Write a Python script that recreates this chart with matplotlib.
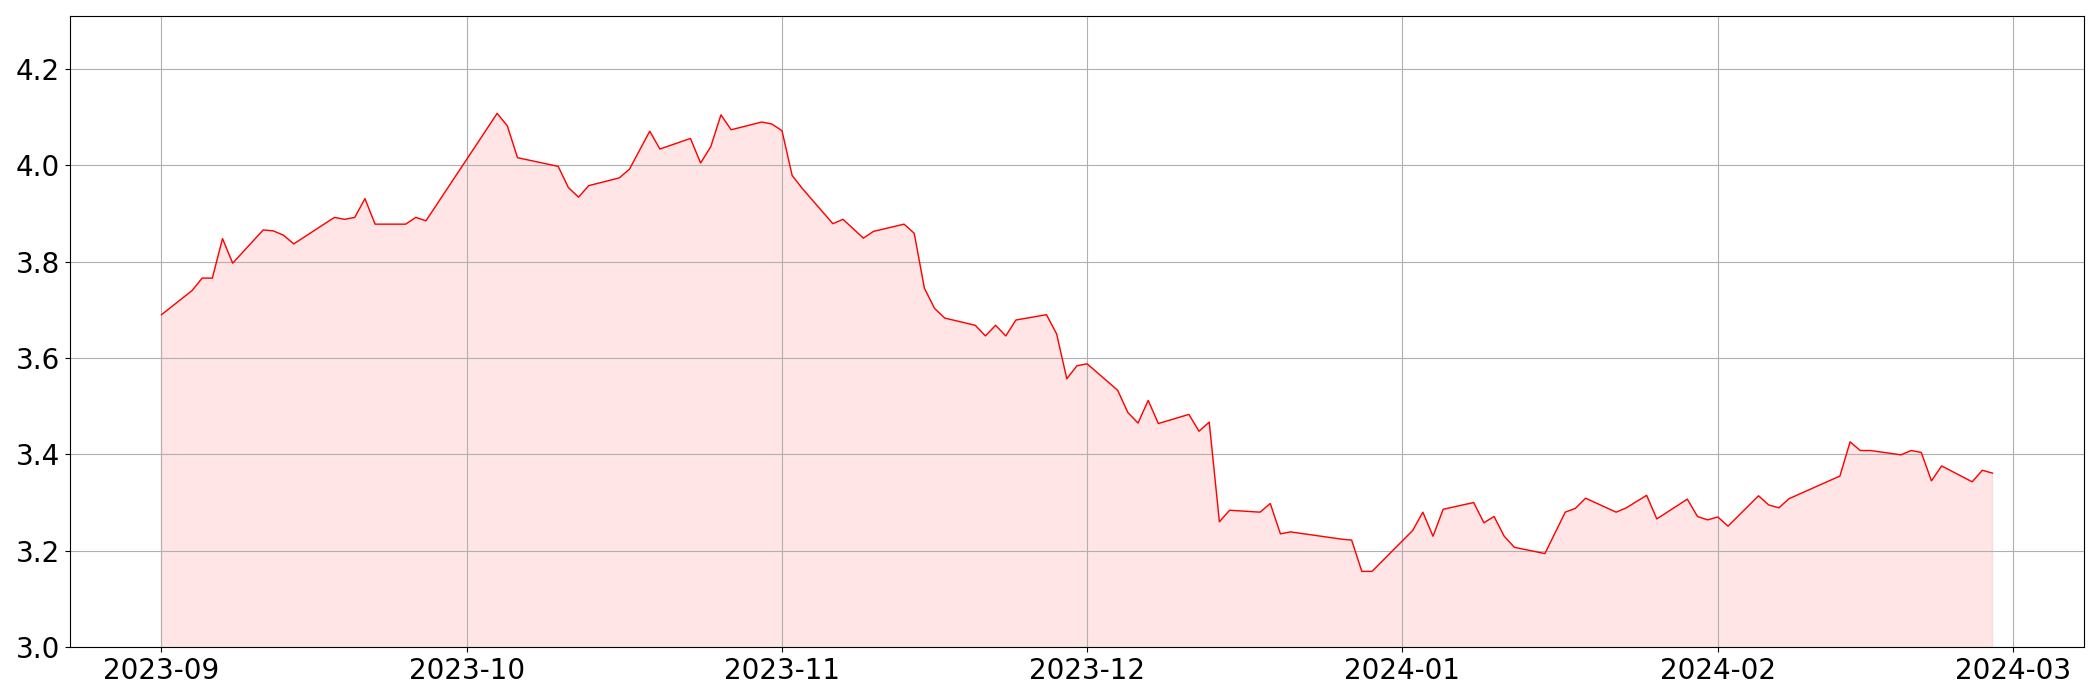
import numpy as np
import pandas as pd
import matplotlib
matplotlib.use('Agg')
import matplotlib.pyplot as plt

# values
dates = ['2023-09-01', '2023-09-04', '2023-09-05', '2023-09-06', '2023-09-07', '2023-09-08',
         '2023-09-11', '2023-09-12', '2023-09-13', '2023-09-14', '2023-09-18', '2023-09-19',
         '2023-09-20', '2023-09-21', '2023-09-22', '2023-09-25', '2023-09-26', '2023-09-27',
         '2023-10-04', '2023-10-05', '2023-10-06', '2023-10-10', '2023-10-11', '2023-10-12',
         '2023-10-13', '2023-10-16', '2023-10-17', '2023-10-19', '2023-10-20', '2023-10-23',
         '2023-10-24', '2023-10-25', '2023-10-26', '2023-10-27', '2023-10-30', '2023-10-31',
         '2023-11-01', '2023-11-02', '2023-11-03', '2023-11-06', '2023-11-07', '2023-11-09',
         '2023-11-10', '2023-11-13', '2023-11-14', '2023-11-15', '2023-11-16', '2023-11-17',
         '2023-11-20', '2023-11-21', '2023-11-22', '2023-11-23', '2023-11-24', '2023-11-27',
         '2023-11-28', '2023-11-29', '2023-11-30', '2023-12-01', '2023-12-04', '2023-12-05',
         '2023-12-06', '2023-12-07', '2023-12-08', '2023-12-11', '2023-12-12', '2023-12-13',
         '2023-12-14', '2023-12-15', '2023-12-18', '2023-12-19', '2023-12-20', '2023-12-21',
         '2023-12-22', '2023-12-26', '2023-12-27', '2023-12-28', '2023-12-29', '2024-01-02',
         '2024-01-03', '2024-01-04', '2024-01-05', '2024-01-08', '2024-01-09', '2024-01-10',
         '2024-01-11', '2024-01-12', '2024-01-15', '2024-01-17', '2024-01-18', '2024-01-19',
         '2024-01-22', '2024-01-23', '2024-01-25', '2024-01-26', '2024-01-29', '2024-01-30',
         '2024-01-31', '2024-02-01', '2024-02-02', '2024-02-05', '2024-02-06', '2024-02-07',
         '2024-02-08', '2024-02-13', '2024-02-14', '2024-02-15', '2024-02-16', '2024-02-19',
         '2024-02-20', '2024-02-21', '2024-02-22', '2024-02-23', '2024-02-26', '2024-02-27',
         '2024-02-28']

values = [3.690, 3.740, 3.766, 3.766, 3.848, 3.797,
          3.866, 3.864, 3.855, 3.837, 3.892, 3.888,
          3.892, 3.931, 3.878, 3.878, 3.892, 3.885,
          4.108, 4.082, 4.016, 3.998, 3.954, 3.934,
          3.958, 3.974, 3.992, 4.071, 4.034, 4.056,
          4.005, 4.039, 4.105, 4.074, 4.090, 4.086,
          4.072, 3.979, 3.952, 3.879, 3.888, 3.849,
          3.863, 3.878, 3.859, 3.745, 3.703, 3.683,
          3.668, 3.646, 3.668, 3.646, 3.679, 3.690,
          3.650, 3.557, 3.584, 3.588, 3.533, 3.487,
          3.465, 3.512, 3.464, 3.483, 3.448, 3.467,
          3.260, 3.284, 3.280, 3.298, 3.235, 3.239,
          3.236, 3.224, 3.222, 3.157, 3.157, 3.242,
          3.280, 3.230, 3.286, 3.300, 3.258, 3.271,
          3.230, 3.207, 3.194, 3.280, 3.288, 3.309,
          3.280, 3.289, 3.315, 3.266, 3.307, 3.271,
          3.264, 3.270, 3.251, 3.314, 3.295, 3.289,
          3.308, 3.355, 3.426, 3.408, 3.408, 3.399,
          3.408, 3.404, 3.345, 3.376, 3.343, 3.367,
          3.361]

x = pd.to_datetime(dates)
y = np.array(values)

fig = plt.figure(figsize=(21, 7), dpi=100)
ax = fig.add_subplot(111)
plt.subplots_adjust(left=0.0333, right=0.9924, top=0.977, bottom=0.0757)

ax.plot(x, y, color='red', linewidth=1)
ax.fill_between(x, y, 0, color='red', alpha=0.1)

ax.set_ylim(3.0, 4.31)
ax.grid(True)
ax.tick_params(labelsize=20)

plt.savefig('out.png', dpi=100)
